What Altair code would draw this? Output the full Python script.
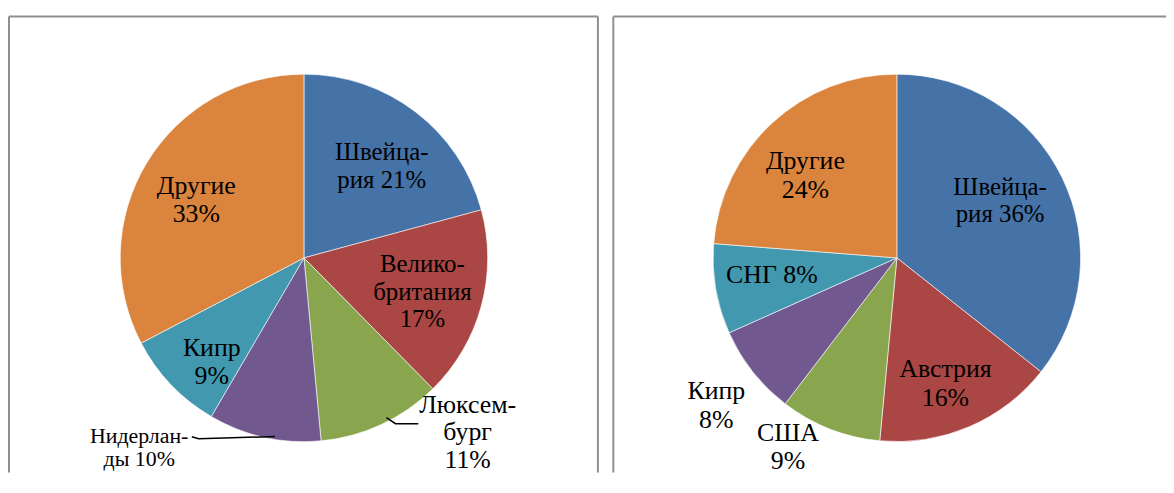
import math
import altair as alt
import pandas as pd

# ---------------- data ----------------
left_countries = ["Швейцария", "Великобритания", "Люксембург", "Нидерланды", "Кипр", "Другие"]
left_shares = [21, 17, 11, 10, 9, 33]
left_labels = ["Швейца-\nрия 21%", "Велико-\nбритания\n17%", "Люксем-\nбург\n11%",
               "Нидерлан-\nды 10%", "Кипр\n9%", "Другие\n33%"]

right_countries = ["Швейцария", "Австрия", "США", "Кипр", "СНГ", "Другие"]
right_shares = [36, 16, 9, 8, 8, 24]
right_labels = ["Швейца-\nрия 36%", "Австрия\n16%", "США\n9%", "Кипр\n8%", "СНГ 8%", "Другие\n24%"]

slice_colors = ["#4572A7", "#AA4643", "#89A54E", "#71588F", "#4198AF", "#DB843D"]

# ---------------- layout ----------------
W, H = 1166, 466
R = 185
LEFT_C = (298, 250)
RIGHT_C = (895, 250)
FONT = "Liberation Serif, serif"
# label block centre: (angle offset from slice middle in degrees, radius in px)
left_label_pos = [(2.9, 121), (0.8, 124), (-18.2, 241), (28.5, 253), (-4.8, 140), (-3.0, 123)]
left_label_style = [(25, 28), (25, 28), (26, 28), (22, 23), (26, 28.5), (26, 28.5)]  # (font size, line height)
right_label_pos = [(-3.3, 119), (2.1, 136), (8.5, 220), (-1.0, 235), (2.1, 127), (-5.2, 124)]
right_label_style = [(25, 27.5), (26, 29), (26, 28.5), (26, 29), (26, 29), (26, 29)]
# leader lines, polar points (deg, px) relative to the pie centre
left_leaders = {
    "lux": [(152.7, 181), (151.1, 190.7), (145.4, 202.8)],
    "nl": [(189.2, 182.3), (210.2, 210.6), (212.1, 212.5)],
}
FRAME_TOP = 7
LEFT_FRAME = (1, 594)
RIGHT_FRAME_X = 609.5


def build(countries, shares, labels, pos, styles):
    total = float(sum(shares))
    rows, cum = [], 0.0
    for i, (c, v, l, (d, r), (fs, lh)) in enumerate(zip(countries, shares, labels, pos, styles)):
        mid = (cum + v / 2.0) / total * 2 * math.pi
        cum += v
        a = mid + math.radians(d)
        dx, dy = r * math.sin(a), -r * math.cos(a)
        n = l.count("\n") + 1
        dy_first = dy - (n - 1) / 2.0 * lh  # vega anchors the first line
        rows.append(dict(slot=i, country=c, share=v, label=l,
                         ang=math.atan2(dx, -dy_first), rad=math.hypot(dx, dy_first),
                         fs=fs, lh=lh))
    return pd.DataFrame(rows)


def pie(df, center):
    cx, cy = center
    layers = [alt.Chart(df).mark_arc(outerRadius=R, stroke="white", strokeWidth=0.6).encode(
        theta=alt.Theta("share:Q", stack=True),
        color=alt.Color("slot:N", scale=alt.Scale(domain=list(range(6)), range=slice_colors), legend=None),
        order=alt.Order("slot:Q"),
        x=alt.value(cx), y=alt.value(cy),
    )]
    for (fs, lh), sub in df.groupby(["fs", "lh"]):
        layers.append(alt.Chart(sub).mark_text(
            font=FONT, fontSize=float(fs), lineBreak="\n", lineHeight=float(lh),
            align="center", baseline="middle", color="black").encode(
            x=alt.value(cx), y=alt.value(cy),
            theta=alt.Theta("ang:Q", scale=None),
            radius=alt.Radius("rad:Q", scale=None),
            text="label:N",
        ))
    return layers


left_df = build(left_countries, left_shares, left_labels, left_label_pos, left_label_style)
right_df = build(right_countries, right_shares, right_labels, right_label_pos, right_label_style)

left_layers = pie(left_df, LEFT_C)
right_layers = pie(right_df, RIGHT_C)

# leader lines
lrows = []
for name, pts in left_leaders.items():
    for k, (a, r) in enumerate(pts):
        lrows.append(dict(line=name, k=k,
                          px=LEFT_C[0] + r * math.sin(math.radians(a)),
                          py=LEFT_C[1] - r * math.cos(math.radians(a))))
leaders = alt.Chart(pd.DataFrame(lrows)).mark_line(color="black", strokeWidth=1.5).encode(
    x=alt.X("px:Q", scale=None), y=alt.Y("py:Q", scale=None),
    detail="line:N", order="k:Q",
)

# panel frames (open at the bottom / right like the cropped original)
frames = pd.DataFrame([
    dict(x=LEFT_FRAME[0], x2=LEFT_FRAME[1], y=FRAME_TOP, y2=FRAME_TOP),
    dict(x=LEFT_FRAME[0], x2=LEFT_FRAME[0], y=FRAME_TOP, y2=H),
    dict(x=LEFT_FRAME[1], x2=LEFT_FRAME[1], y=FRAME_TOP, y2=H),
    dict(x=RIGHT_FRAME_X, x2=W, y=FRAME_TOP, y2=FRAME_TOP),
    dict(x=RIGHT_FRAME_X, x2=RIGHT_FRAME_X, y=FRAME_TOP, y2=H),
])
frame = alt.Chart(frames).mark_rule(color="#8f8f8f", strokeWidth=2).encode(
    x=alt.X("x:Q", scale=None), x2="x2:Q",
    y=alt.Y("y:Q", scale=None), y2="y2:Q",
)

chart = alt.layer(frame, *left_layers[:1], *right_layers[:1], leaders,
                  *left_layers[1:], *right_layers[1:]).resolve_scale(
    theta="independent"
).properties(
    width=W, height=H, padding=0,
    autosize=alt.AutoSizeParams(type="none"),
    background="white",
).configure_view(stroke=None)

chart.save("out.html", embed_options={"renderer": "svg", "actions": False})
